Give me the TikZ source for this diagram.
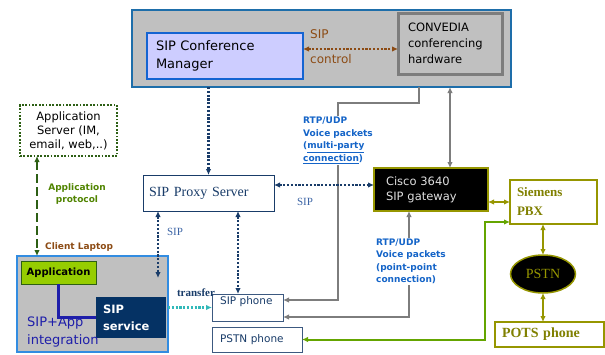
\documentclass[tikz,border=0pt]{standalone}
\usepackage{fontspec}
\setmainfont{DejaVu Sans}
\newfontfamily\tms{Liberation Serif}
\usetikzlibrary{arrows.meta,shapes.geometric}

\definecolor{marino}{RGB}{25,60,105}
\definecolor{azulsip}{RGB}{60,100,165}
\definecolor{azulborde}{RGB}{30,110,170}
\definecolor{azulcm}{RGB}{20,100,210}
\definecolor{lavanda}{RGB}{205,205,255}
\definecolor{grisf}{RGB}{192,192,192}
\definecolor{grisb}{RGB}{125,125,125}
\definecolor{marron}{RGB}{140,75,20}
\definecolor{oliva}{RGB}{150,150,0}
\definecolor{olivaosc}{RGB}{128,128,0}
\definecolor{verdel}{RGB}{100,165,0}
\definecolor{verdeosc}{RGB}{45,95,20}
\definecolor{verdeapp}{RGB}{150,205,0}
\definecolor{azulclaro}{RGB}{50,140,225}
\definecolor{azuloscuro}{RGB}{5,50,100}
\definecolor{azulint}{RGB}{30,30,170}
\definecolor{azulrtp}{RGB}{20,100,200}
\definecolor{turquesa}{RGB}{50,185,185}

\begin{document}
\begin{tikzpicture}[x=1pt, y=-1pt, >={Latex[length=6pt,width=5.5pt]},
  punteado/.style={line width=2.3pt, dash pattern=on 2.2pt off 1.6pt},
  gris/.style={draw=grisb, line width=2.4pt},
  oliv/.style={draw=oliva, line width=2pt},
  caja/.style={inner sep=0pt, outer sep=0pt},
  rtp/.style={fill=white, text=azulrtp, align=left, inner sep=1pt,
    font=\bfseries\fontsize{9}{12.5}\selectfont}]
  \useasboundingbox (0,0) rectangle (605,354);

  % Bloque de conferencia
  \node[caja, draw=azulborde, line width=1.5pt, fill=grisf,
    minimum width=379pt, minimum height=77pt] (conf) at (321.5,48.5) {};
  \node[caja, draw=azulcm, line width=2.5pt, fill=lavanda, text width=138pt,
    inner xsep=9pt, minimum height=46pt, align=left,
    font=\fontsize{13}{18}\selectfont] (cm) at (225,56) {SIP Conference\\Manager};
  \node[caja, draw=grisb, line width=3pt, fill=grisf, text width=84pt,
    inner xsep=10pt, minimum height=61pt, align=left,
    font=\fontsize{11.5}{16}\selectfont] (cnv) at (450,43.5)
    {CONVEDIA\\conferencing\\hardware};

  % Servidores y telefonos
  \node[caja, draw=oliva, line width=1.5pt, fill=black, text=gray!25,
    text width=90pt, inner xsep=12pt, minimum height=43pt, align=left,
    font=\fontsize{11.5}{15}\selectfont] (cisco) at (431,189.5)
    {Cisco 3640\\SIP gateway};
  \node[caja, draw=marino, line width=1pt, fill=white, text=marino,
    text width=125pt, inner xsep=3pt, minimum height=36pt, align=left,
    font=\tms\fontsize{14}{16}\selectfont] (proxy) at (208.5,193)
    {\hspace{3pt}SIP Proxy Server};
  \node[caja, draw=marino!85, line width=0.8pt, fill=white,
    minimum width=71pt, minimum height=27pt,
    label={[anchor=north west, inner sep=0pt, xshift=8pt, yshift=-2pt,
      text=marino, font=\fontsize{10.5}{12}\selectfont]north west:SIP phone}]
    (sipph) at (247.5,307.5) {};
  \node[caja, draw=marino!85, line width=0.8pt, fill=white, text=marino,
    text width=74pt, inner xsep=8pt, minimum height=25pt, align=left,
    font=\fontsize{10.5}{12}\selectfont] (pstnph) at (257,339.5) {PSTN phone};
  \node[caja, draw=oliva, line width=1.2pt, fill=white, text=olivaosc,
    text width=73pt, inner xsep=7pt, minimum height=44pt, align=left,
    font=\tms\bfseries\fontsize{13}{19}\selectfont] (pbx) at (553.5,202)
    {Siemens\\PBX};
  \node[ellipse, caja, draw=oliva, line width=1.5pt, fill=black, text=oliva,
    minimum width=65pt, minimum height=38pt,
    font=\tms\fontsize{14}{16}\selectfont] (pstn) at (543,274) {PSTN};
  \node[caja, draw=oliva, line width=1.2pt, fill=white, text=olivaosc,
    text width=95pt, inner xsep=7pt, minimum height=25pt, align=left,
    font=\tms\bfseries\fontsize{14}{16}\selectfont] (pots) at (549.5,334.5)
    {POTS phone};

  % Portatil del cliente
  \node[caja, draw=verdeosc, line width=1.8pt, dash pattern=on 1.8pt off 1.6pt,
    minimum width=97pt, minimum height=51pt, align=center,
    font=\fontsize{11.5}{14}\selectfont] (appsrv) at (68.5,130.5)
    {Application\\Server (IM,\\email, web,..)};
  \node[caja, draw=azulclaro, line width=1.5pt, fill=grisf,
    minimum width=151pt, minimum height=96pt] (laptop) at (92.5,304) {};
  \node[caja, draw=verdeosc, line width=1pt, fill=verdeapp,
    minimum width=75pt, minimum height=23pt,
    font=\bfseries\fontsize{10}{12}\selectfont] (app) at (58.5,272.5) {Application};
  \draw[azulint, line width=2.2pt] (app.south) |- (131,317.5);
  \node[caja, fill=azuloscuro, text=white, text width=56pt, inner xsep=7pt,
    minimum height=41pt, align=left,
    font=\bfseries\fontsize{11.5}{17}\selectfont] (sipsv) at (131,317.5)
    {SIP\\service};
  \node[anchor=north west, inner sep=0pt, align=left, text=azulint,
    font=\fontsize{13}{18}\selectfont] (integ) at (27,317) {SIP+App\\integration};

  % Conexiones
  \coordinate (k1) at (419,103);
  \coordinate (k2) at (338,103);
  \coordinate (g1) at (485,222);
  \coordinate (sipin) at (158,278);
  \draw[marron, punteado, <->] ([yshift=7pt]cm.east) -- ([yshift=7pt]cm.east -| cnv.west);
  \draw[gris, ->] (k1 |- conf.south) -- (k1) -- (k2) |- ([yshift=-6pt]sipph.north east);
  \draw[gris, <->] (cnv.center |- conf.south) -- (cnv.center |- cisco.north);
  \draw[gris, <->] ([xshift=-22pt]cisco.south) |- ([yshift=4pt]sipph.south east);
  \draw[marino, punteado, ->] (proxy.north |- conf.south) -- (proxy.north);
  \draw[marino, punteado, <->] ([yshift=8pt]proxy.east) -- ([yshift=8pt]proxy.east -| cisco.west);
  \draw[marino, punteado, <->] ([xshift=-50.5pt]proxy.south) -- (sipin);
  \draw[marino, punteado, <->] ([xshift=29.5pt]proxy.south) -- ([xshift=29.5pt]proxy.south |- sipph.north);
  \draw[turquesa, punteado, ->] (laptop.east |- sipph.west) -- (sipph.west);
  \draw[oliv, <->] (pbx.west -| cisco.east) -- (pbx.west);
  \draw[oliv, line width=2.4pt, <->] (pstn.north |- pbx.south) -- (pstn.north);
  \draw[oliv, <->] (pstn.south) -- (pstn.south |- pots.north);
  \draw[verdel, line width=2pt, <->] (pstnph.east) -| (g1) -- ([yshift=-20pt]pbx.west);
  \draw[verdeosc, line width=1.8pt, dash pattern=on 9pt off 4pt, <->]
    ([xshift=-31.5pt]appsrv.south) -- ([xshift=-31.5pt]appsrv.south |- laptop.north);

  % Etiquetas
  \node[anchor=west, inner sep=0pt, align=left, text=marron,
    font=\fontsize{12}{25}\selectfont] (lsip) at (310,46.5) {SIP\\control};
  \node[rtp] (lmulti) at (338,140.5)
    {RTP/UDP\\Voice packets\\(\underline{multi-party}\\\underline{connection})};
  \node[rtp] (lpunto) at (411,261.5)
    {RTP/UDP\\Voice packets\\(point-point\\connection)};
  \node[text=azulsip, font=\tms\fontsize{11}{13}\selectfont, inner sep=0pt]
    (lsip1) at (305,202) {SIP};
  \node[text=azulsip, font=\tms\fontsize{11}{13}\selectfont, inner sep=0pt]
    (lsip2) at (175,232) {SIP};
  \node[text=marino, font=\tms\bfseries\fontsize{11}{13}\selectfont, inner sep=0pt]
    (ltransf) at (196,293) {transfer};
  \node[text=verdel!80!black, align=center, inner sep=0pt,
    font=\bfseries\fontsize{9}{12}\selectfont] (lproto) at (77,194)
    {Application\\protocol};
  \node[anchor=west, text=marron, inner sep=0pt,
    font=\bfseries\fontsize{9}{11}\selectfont] (lclient) at (45,247) {Client Laptop};
\end{tikzpicture}
\end{document}
